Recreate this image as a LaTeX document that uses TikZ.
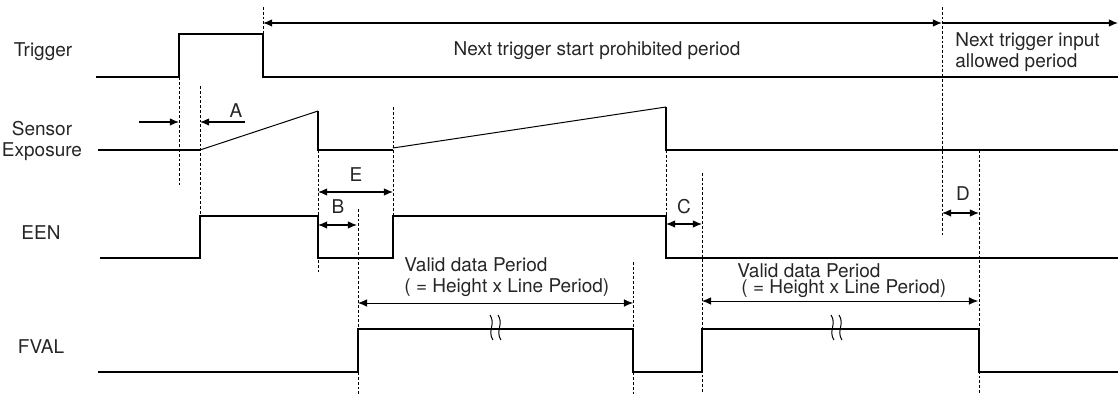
\documentclass[tikz,border=0pt]{standalone}
\usepackage{fontspec}
\setmainfont{TeX Gyre Heros}
\usetikzlibrary{arrows.meta}
\begin{document}
\begin{tikzpicture}[x=0.5pt,y=-0.5pt,>={Latex[length=4.6pt,width=3.8pt]},
wave/.style={line width=0.8pt},
ramp/.style={line width=0.5pt},
guide/.style={line width=0.35pt,dash pattern=on 1.4pt off 1pt},
span/.style={<->,line width=0.55pt},
lbl/.style={font=\fontsize{9.5}{10.5}\selectfont,text=black!85,inner sep=0pt}]
\useasboundingbox (0,0) rectangle (1118,394);
% signal names
\node[lbl,anchor=base] (trig) at (43,57) {Trigger};
\node[lbl,anchor=base,align=center] (sens) at (42,157) {Sensor\\Exposure};
\node[lbl,anchor=base] (een) at (41,240) {EEN};
\node[lbl,anchor=base] (fval) at (41,354) {FVAL};
% waveforms
\draw[wave] (96,77) -- (179,77) -- (179,34) -- (263,34) -- (263,77) -- (1118,77);
\draw[wave] (98,150) -- (200,150);
\draw[ramp] (200,150) -- (318,111);
\draw[wave] (318,111) -- (318,150) -- (393,150);
\draw[ramp] (393,148) -- (666,107);
\draw[wave] (666,107) -- (666,150) -- (1118,150);
\draw[wave] (100,258) -- (200,258) -- (200,216) -- (318,216) -- (318,258) -- (393,258)
  -- (393,216) -- (666,216) -- (666,258) -- (1118,258);
\draw[wave] (98,372) -- (358,372) -- (358,329) -- (633,329) -- (633,372) -- (702,372)
  -- (702,329) -- (979,329) -- (979,372) -- (1118,372);
\foreach \bx in {490,498,831,839}
  \draw[ramp] (\bx,315) .. controls (\bx+6,324) and (\bx-3,331) .. (\bx+3,340);
% timing guides
\draw[guide] (179,77) -- (179,187);
\draw[guide] (263,7) -- (263,77);
\draw[guide] (200,86) -- (200,216);
\draw[guide] (318,150) -- (318,272);
\draw[guide] (393,107) -- (393,216);
\draw[guide] (358,209) -- (358,394);
\draw[guide] (633,262) -- (633,394);
\draw[guide] (666,150) -- (666,258);
\draw[guide] (702,173) -- (702,394);
\draw[guide] (942,7) -- (942,235);
\draw[guide] (979,150) -- (979,394);
% periods
\coordinate (pstart) at (263,23);
\coordinate (pend) at (942,23);
\coordinate (aend) at (1118,23);
\draw[span] (pstart) -- (pend);
\draw[->,line width=0.55pt] (pend) -- (aend);
\node[lbl,anchor=base] (prohib) at (597,56) {Next trigger start prohibited period};
\node[lbl,anchor=base west,align=left] (allow) at (955,68) {Next trigger input\\allowed period};
% A
\coordinate (aleft) at (139,122);
\coordinate (arise) at (179,122);
\coordinate (aexp) at (200,122);
\coordinate (aright) at (245,122);
\draw[->,line width=0.55pt] (aleft) -- (arise);
\draw[->,line width=0.55pt] (aright) -- (aexp);
\node[lbl,anchor=base] (A) at (236,118) {A};
% E, B
\coordinate (eleft) at (318,192);
\coordinate (eright) at (393,192);
\draw[span] (eleft) -- (eright);
\node[lbl,anchor=base] (E) at (356,182) {E};
\coordinate (bleft) at (318,225);
\coordinate (bright) at (357,225);
\draw[span] (bleft) -- (bright);
\node[lbl,anchor=base] (B) at (338,214) {B};
% C, D
\coordinate (cleft) at (666,224);
\coordinate (cright) at (702,224);
\draw[span] (cleft) -- (cright);
\node[lbl,anchor=base] (C) at (684,214) {C};
\coordinate (dleft) at (942,213);
\coordinate (dright) at (979,213);
\draw[span] (dleft) -- (dright);
\node[lbl,anchor=base] (D) at (963,201) {D};
% valid data
\coordinate (v1left) at (358,303);
\coordinate (v1right) at (633,303);
\draw[span,line width=0.35pt] (v1left) -- (v1right);
\node[lbl,anchor=base west,align=left] (valid1) at (404,293) {Valid data Period\\( = Height x Line Period)};
\coordinate (v2left) at (702,301);
\coordinate (v2right) at (978,301);
\draw[span,line width=0.35pt] (v2left) -- (v2right);
\node[lbl,anchor=base west,align=left] (valid2) at (737,294) {Valid data Period\\[-2.5pt]\hspace{2pt}( = Height x Line Period)};
\end{tikzpicture}
\end{document}
